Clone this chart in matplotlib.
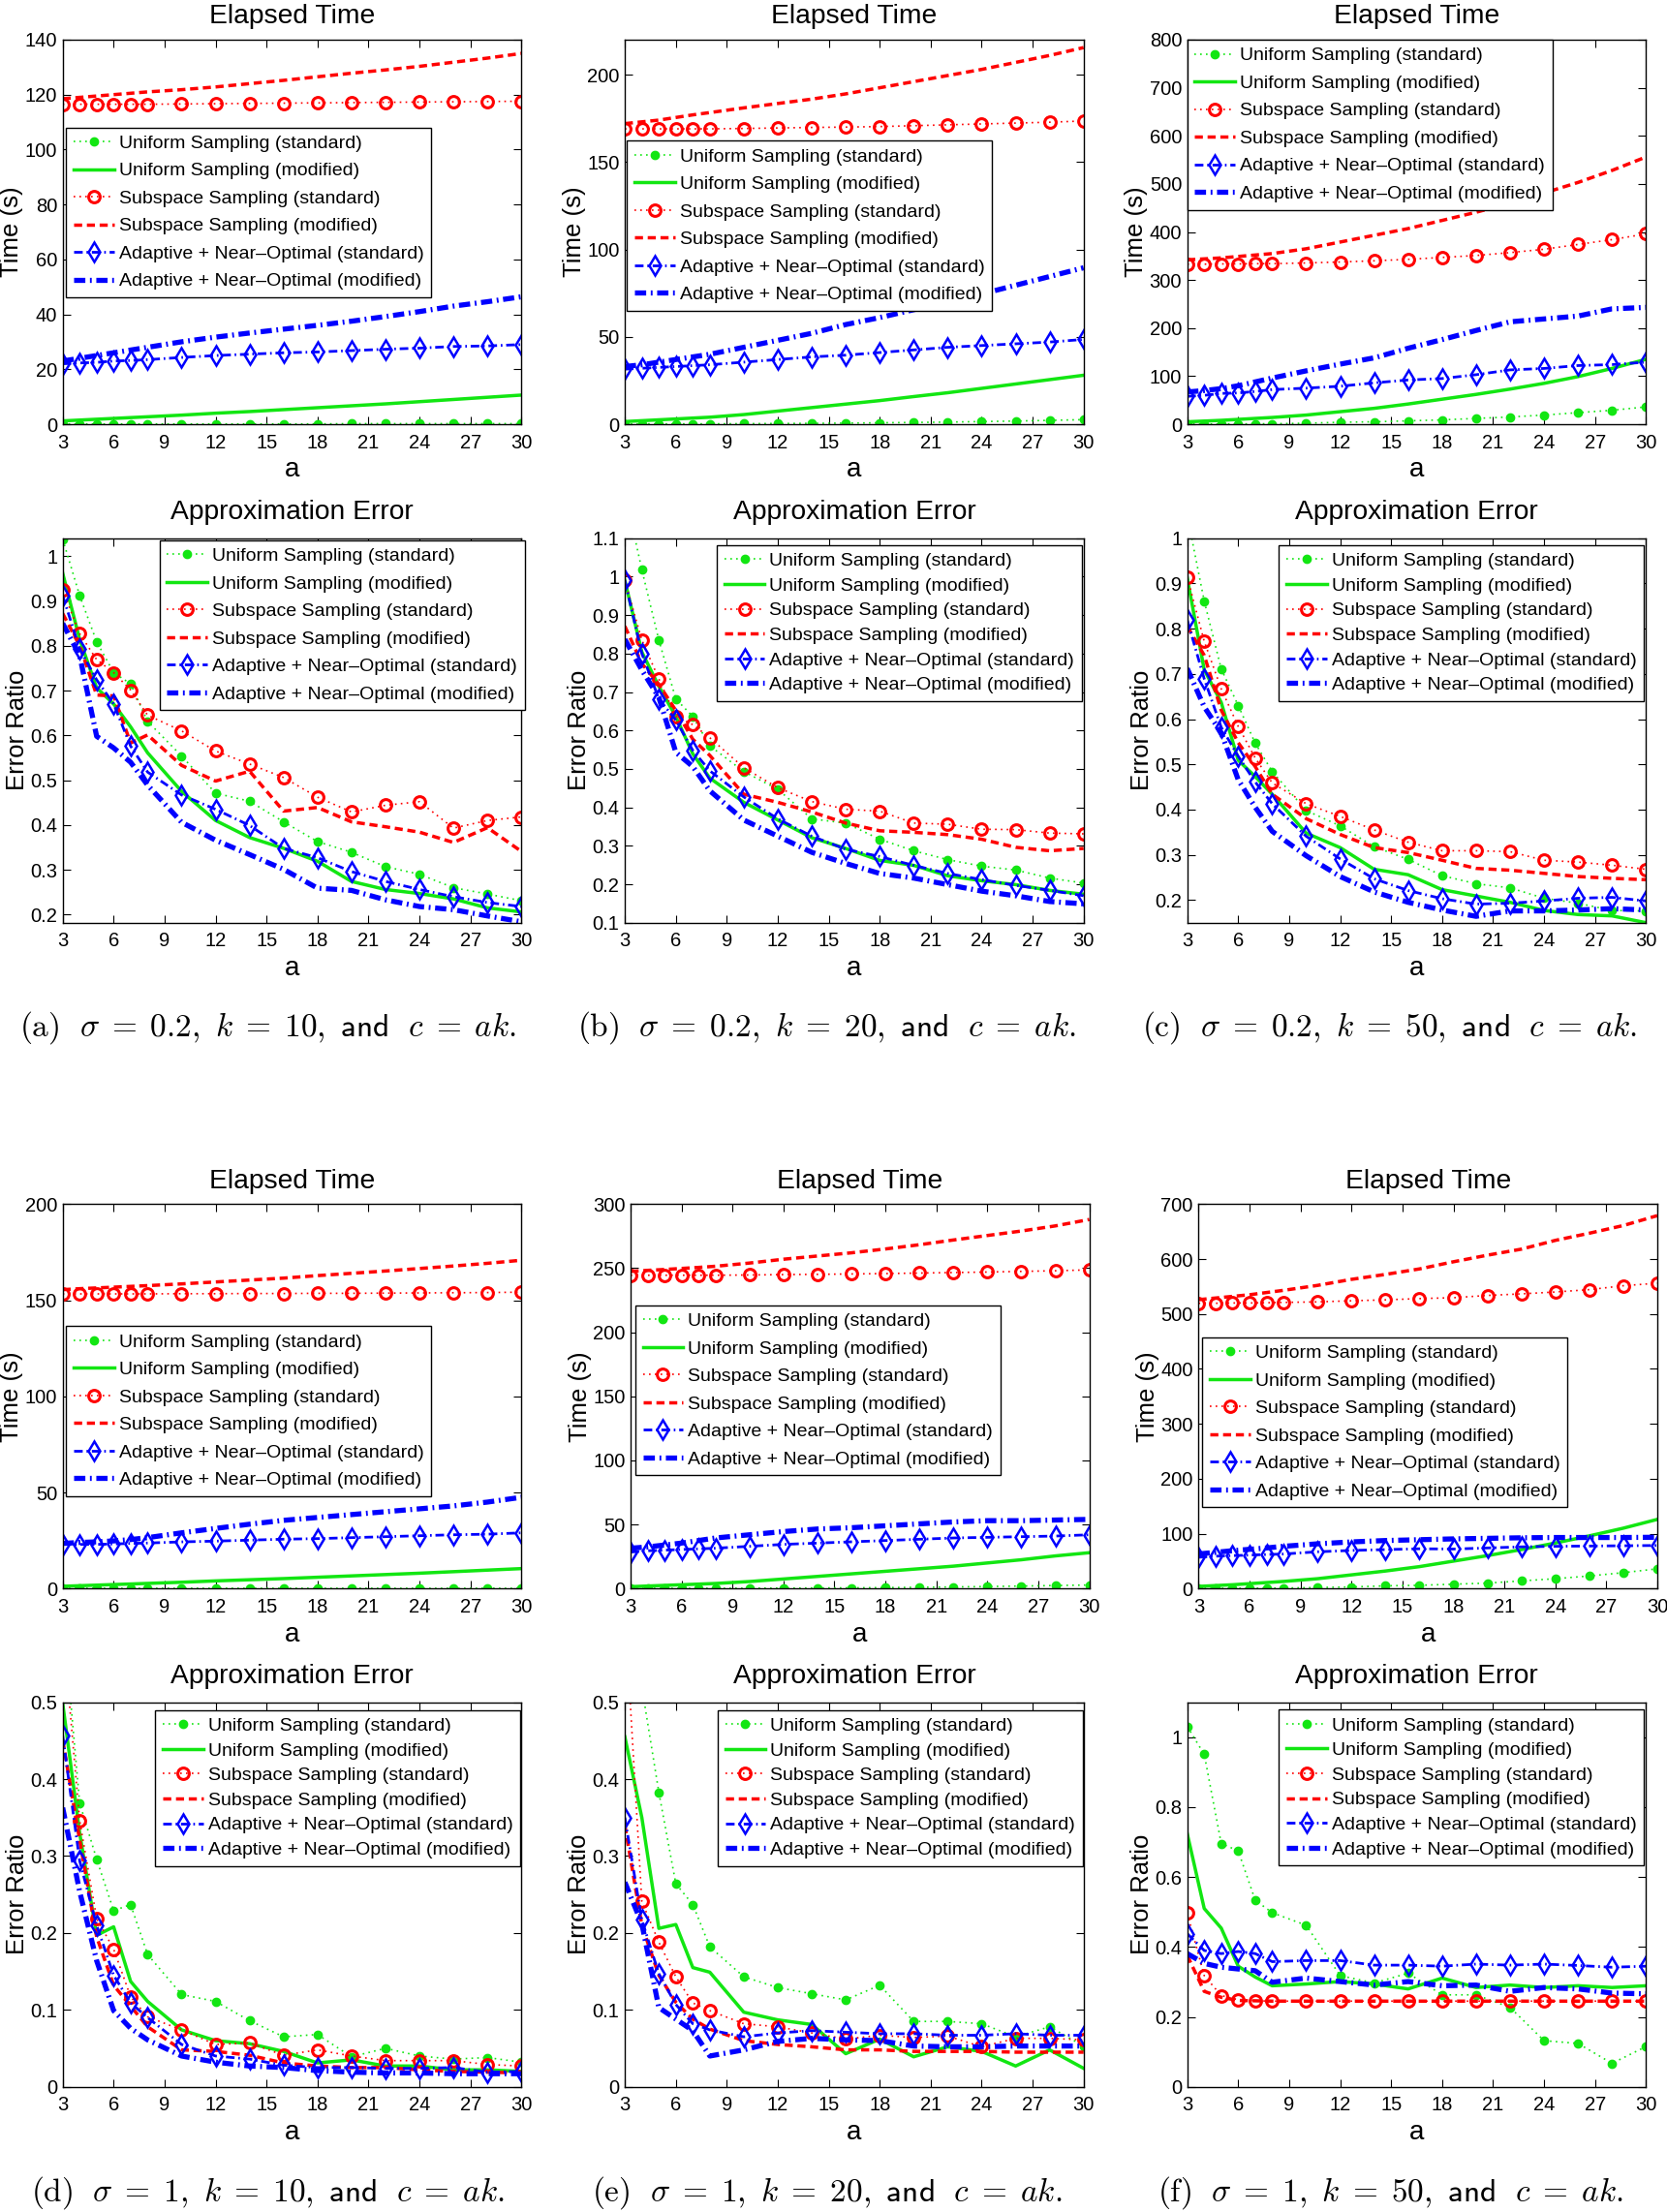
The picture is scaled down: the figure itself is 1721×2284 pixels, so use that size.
import matplotlib
matplotlib.use('Agg')
import matplotlib.pyplot as plt
from matplotlib.ticker import FormatStrFormatter

plt.rcParams['font.family'] = ['Liberation Sans', 'DejaVu Sans']
plt.rcParams['mathtext.fontset'] = 'cm'

a_vals = [3, 4, 5, 6, 7, 8, 10, 12, 14, 16, 18, 20, 22, 24, 26, 28, 30]
xticks = [3, 6, 9, 12, 15, 18, 21, 24, 27, 30]

labels = ['Uniform Sampling (standard)', 'Uniform Sampling (modified)',
          'Subspace Sampling (standard)', 'Subspace Sampling (modified)',
          'Adaptive + Near\u2013Optimal (standard)', 'Adaptive + Near\u2013Optimal (modified)']

# ---- elapsed time, sigma = 0.2 ----
ta_us = [0.1, 0.1, 0.1, 0.1, 0.1, 0.1, 0.1, 0.1, 0.1, 0.1, 0.1, 0.2, 0.2, 0.2, 0.2, 0.2, 0.2]
ta_um = [1.2, 1.5, 1.8, 2.1, 2.4, 2.7, 3.3, 4.0, 4.6, 5.3, 6.0, 6.7, 7.4, 8.2, 9.0, 9.8, 10.6]
ta_ss = [116.5, 116.5, 116.5, 116.5, 116.5, 116.5, 116.6, 116.7, 116.8, 116.9, 117.0, 117.1, 117.2, 117.3, 117.4, 117.5, 117.6]
ta_sm = [118.5, 119.0, 119.5, 120.0, 120.5, 121.0, 121.8, 122.8, 124.0, 125.2, 126.5, 127.8, 129.0, 130.3, 131.8, 133.3, 135.0]
ta_as = [22.0, 22.3, 22.5, 23.0, 23.2, 23.5, 24.3, 25.0, 25.5, 26.0, 26.3, 26.8, 27.3, 27.7, 28.3, 28.5, 29.0]
ta_am = [23.0, 24.0, 25.0, 26.0, 27.0, 28.0, 30.0, 31.7, 33.2, 34.6, 36.0, 37.5, 39.2, 41.0, 43.0, 44.6, 46.4]

tb_us = [0.2, 0.2, 0.2, 0.2, 0.2, 0.2, 0.3, 0.4, 0.5, 0.6, 0.8, 1.0, 1.2, 1.5, 1.8, 2.2, 2.6]
tb_um = [1.5, 2.0, 2.5, 3.0, 3.5, 4.0, 5.5, 7.5, 9.5, 11.5, 13.5, 15.8, 18.0, 20.5, 23.0, 25.5, 28.0]
tb_ss = [169, 169, 169, 169, 169, 169, 169.2, 169.5, 169.8, 170, 170.3, 170.8, 171.3, 171.8, 172.3, 172.8, 173.5]
tb_sm = [172, 173, 174, 175.5, 177, 178.3, 181, 183.5, 186, 189, 192.5, 196, 199.5, 203, 207, 211, 215.5]
tb_as = [31.5, 32, 32.5, 33, 33.5, 34, 35.5, 37, 38.5, 39.5, 41, 42.5, 44, 45, 46, 47, 48.5]
tb_am = [33, 34, 35.5, 37, 38.5, 40, 44, 48, 52, 57, 61, 65.5, 70, 74.5, 79.5, 84.5, 89.5]

tc_us = [0.5, 0.5, 0.6, 0.7, 0.8, 1.0, 2.0, 4.0, 5.0, 7.0, 9.0, 12.0, 15.0, 19.0, 24.0, 29.0, 36.0]
tc_um = [5, 6.5, 8, 10, 12, 14, 19, 26, 33, 42, 52, 62, 73, 85, 99, 116, 135]
tc_ss = [333, 333, 333.5, 333.5, 334, 334, 335.5, 337.5, 340, 343, 347, 351, 357, 364, 374, 384, 396]
tc_sm = [342, 344, 346, 349, 352, 355, 365, 379, 393, 407, 424, 441, 460, 481, 503, 528, 556]
tc_as = [58, 60, 64, 65, 68, 72, 75, 79, 86, 92, 95, 103, 113, 116, 122, 124, 129]
tc_am = [67, 70, 74, 80, 88, 96, 111, 125, 138, 158, 176, 195, 213, 219, 225, 240, 243]

# ---- approximation error, sigma = 0.2 ----
ea_us = [1.038, 0.912, 0.809, 0.740, 0.715, 0.631, 0.554, 0.471, 0.453, 0.407, 0.363, 0.339, 0.307, 0.290, 0.260, 0.246, 0.231]
ea_um = [0.962, 0.814, 0.706, 0.670, 0.619, 0.561, 0.475, 0.410, 0.372, 0.348, 0.319, 0.274, 0.256, 0.247, 0.235, 0.215, 0.206]
ea_ss = [0.924, 0.827, 0.769, 0.740, 0.701, 0.645, 0.610, 0.565, 0.536, 0.506, 0.462, 0.429, 0.444, 0.452, 0.393, 0.410, 0.418]
ea_sm = [0.872, 0.800, 0.690, 0.688, 0.583, 0.601, 0.533, 0.498, 0.520, 0.431, 0.439, 0.407, 0.396, 0.384, 0.361, 0.394, 0.341]
ea_as = [0.912, 0.793, 0.724, 0.670, 0.576, 0.518, 0.467, 0.435, 0.399, 0.348, 0.327, 0.296, 0.274, 0.256, 0.240, 0.227, 0.218]
ea_am = [0.850, 0.778, 0.598, 0.572, 0.540, 0.489, 0.406, 0.366, 0.334, 0.301, 0.259, 0.254, 0.233, 0.218, 0.211, 0.197, 0.184]

eb_us = [1.22, 1.018, 0.835, 0.682, 0.636, 0.560, 0.493, 0.447, 0.370, 0.359, 0.317, 0.287, 0.264, 0.247, 0.237, 0.216, 0.203]
eb_um = [0.990, 0.804, 0.715, 0.636, 0.539, 0.476, 0.413, 0.367, 0.321, 0.293, 0.262, 0.249, 0.222, 0.209, 0.199, 0.184, 0.174]
eb_ss = [0.990, 0.835, 0.734, 0.636, 0.615, 0.581, 0.503, 0.451, 0.415, 0.395, 0.390, 0.359, 0.356, 0.343, 0.342, 0.333, 0.331]
eb_sm = [0.871, 0.774, 0.720, 0.652, 0.577, 0.535, 0.434, 0.413, 0.388, 0.359, 0.339, 0.335, 0.329, 0.317, 0.296, 0.287, 0.293]
eb_as = [0.990, 0.800, 0.682, 0.627, 0.548, 0.495, 0.427, 0.370, 0.325, 0.291, 0.272, 0.249, 0.228, 0.212, 0.197, 0.184, 0.170]
eb_am = [0.837, 0.757, 0.686, 0.543, 0.506, 0.443, 0.367, 0.325, 0.283, 0.254, 0.228, 0.216, 0.199, 0.182, 0.170, 0.155, 0.149]

ec_us = [1.05, 0.861, 0.711, 0.630, 0.547, 0.484, 0.398, 0.364, 0.318, 0.290, 0.254, 0.236, 0.227, 0.204, 0.193, 0.177, 0.176]
ec_um = [0.912, 0.709, 0.637, 0.509, 0.473, 0.434, 0.348, 0.316, 0.268, 0.256, 0.223, 0.209, 0.195, 0.177, 0.168, 0.165, 0.150]
ec_ss = [0.914, 0.772, 0.667, 0.584, 0.514, 0.459, 0.413, 0.385, 0.355, 0.328, 0.309, 0.309, 0.307, 0.288, 0.284, 0.277, 0.268]
ec_sm = [0.805, 0.741, 0.620, 0.548, 0.495, 0.434, 0.380, 0.345, 0.316, 0.305, 0.288, 0.270, 0.266, 0.259, 0.252, 0.248, 0.245]
ec_as = [0.819, 0.689, 0.582, 0.518, 0.461, 0.413, 0.341, 0.291, 0.247, 0.221, 0.203, 0.191, 0.193, 0.198, 0.204, 0.206, 0.198]
ec_am = [0.712, 0.627, 0.570, 0.466, 0.405, 0.352, 0.298, 0.252, 0.218, 0.195, 0.178, 0.164, 0.176, 0.176, 0.178, 0.181, 0.178]

# ---- elapsed time, sigma = 1 ----
td_us = [0.2, 0.2, 0.2, 0.2, 0.2, 0.2, 0.2, 0.2, 0.2, 0.2, 0.2, 0.2, 0.2, 0.2, 0.2, 0.2, 0.2]
td_um = [1.2, 1.5, 1.8, 2.1, 2.4, 2.7, 3.3, 4.0, 4.6, 5.2, 5.9, 6.6, 7.3, 8.0, 8.8, 9.6, 10.4]
td_ss = [153.3, 153.3, 153.3, 153.3, 153.3, 153.3, 153.4, 153.4, 153.5, 153.5, 153.6, 153.6, 153.7, 153.8, 153.9, 154.0, 154.2]
td_sm = [155.5, 156, 156.4, 156.8, 157.2, 157.6, 158.5, 159.5, 160.5, 161.5, 162.8, 164, 165.2, 166.5, 167.8, 169.2, 170.8]
td_as = [23, 23, 23, 23.2, 23.5, 23.7, 24.3, 24.7, 25.2, 25.7, 26, 26.5, 27, 27.5, 28, 28.3, 29]
td_am = [23.5, 24, 24.3, 24.8, 25.5, 26.5, 29, 31.3, 33.5, 35.5, 37, 38.5, 40, 41.5, 43, 45, 47.5]

te_us = [0.2, 0.2, 0.2, 0.2, 0.2, 0.2, 0.3, 0.4, 0.5, 0.6, 0.8, 1.0, 1.3, 1.6, 2.0, 2.4, 2.8]
te_um = [1.5, 2, 2.5, 3, 3.5, 4, 5.5, 7.5, 9.5, 11.5, 13.5, 15.5, 17.5, 20, 22.5, 25.5, 28]
te_ss = [244.5, 244.5, 244.5, 244.5, 244.5, 244.5, 244.7, 245, 245.2, 245.5, 245.8, 246.2, 246.6, 247, 247.5, 248, 248.7]
te_sm = [247.5, 248.3, 249, 249.8, 250.6, 251.5, 254, 257, 259.5, 262, 265, 268.3, 272, 275.5, 279, 283, 288]
te_as = [28.5, 29.5, 30, 30.5, 31, 31.5, 33, 34.5, 35.5, 36.5, 37.5, 38.5, 39.5, 40, 40.5, 41, 42]
te_am = [31.5, 32.5, 34, 35.5, 37.5, 39.5, 42, 44.5, 46.5, 47.5, 49, 50.5, 52, 53, 53, 53.5, 54]

tf_us = [0.5, 0.5, 0.6, 0.7, 0.8, 1.0, 2.0, 3.0, 5.0, 6.0, 8.0, 10.0, 14.0, 18.0, 23.0, 29.0, 36.0]
tf_um = [4, 5.5, 7, 9, 11, 13, 18, 25, 32, 40, 50, 60, 71, 83, 96, 110, 126]
tf_ss = [519.5, 519.5, 520, 520, 520.5, 521, 522, 524, 525.7, 528, 529.6, 533.7, 536.6, 540, 544.3, 551.4, 556]
tf_sm = [526, 529, 532, 535, 539, 543, 552, 563, 572, 582, 595, 607, 618, 634, 647, 661, 679]
tf_as = [57, 59, 60, 61, 62, 63, 67, 69.5, 71, 72.5, 72, 74, 76, 77, 77.5, 78, 78.5]
tf_am = [63, 66, 69, 71.5, 74, 77, 81.5, 85, 87.5, 89, 90.5, 91.5, 92.5, 93, 93, 93, 93.5]

# ---- approximation error, sigma = 1 ----
ed_us = [0.62, 0.369, 0.296, 0.229, 0.237, 0.172, 0.120, 0.111, 0.086, 0.065, 0.068, 0.039, 0.050, 0.040, 0.036, 0.038, 0.032]
ed_um = [0.499, 0.330, 0.197, 0.208, 0.137, 0.111, 0.074, 0.060, 0.056, 0.046, 0.031, 0.035, 0.027, 0.027, 0.022, 0.022, 0.020]
ed_ss = [0.60, 0.346, 0.219, 0.179, 0.117, 0.091, 0.074, 0.055, 0.057, 0.041, 0.048, 0.040, 0.034, 0.034, 0.034, 0.029, 0.027]
ed_sm = [0.451, 0.321, 0.195, 0.132, 0.105, 0.078, 0.048, 0.046, 0.041, 0.031, 0.027, 0.025, 0.025, 0.022, 0.020, 0.019, 0.018]
ed_as = [0.457, 0.294, 0.210, 0.145, 0.109, 0.090, 0.055, 0.040, 0.036, 0.028, 0.025, 0.025, 0.024, 0.024, 0.025, 0.019, 0.020]
ed_am = [0.363, 0.254, 0.164, 0.099, 0.076, 0.061, 0.040, 0.032, 0.027, 0.025, 0.021, 0.019, 0.018, 0.018, 0.017, 0.017, 0.017]

ee_us = [0.75, 0.52, 0.383, 0.264, 0.237, 0.182, 0.143, 0.129, 0.121, 0.113, 0.132, 0.085, 0.085, 0.082, 0.065, 0.078, 0.053]
ee_um = [0.455, 0.350, 0.206, 0.211, 0.155, 0.149, 0.097, 0.087, 0.081, 0.043, 0.062, 0.039, 0.052, 0.046, 0.027, 0.048, 0.024]
ee_ss = [0.62, 0.241, 0.188, 0.143, 0.109, 0.099, 0.082, 0.078, 0.070, 0.062, 0.067, 0.064, 0.066, 0.052, 0.063, 0.063, 0.061]
ee_sm = [0.34, 0.21, 0.145, 0.110, 0.088, 0.075, 0.060, 0.055, 0.052, 0.048, 0.048, 0.046, 0.046, 0.046, 0.045, 0.045, 0.045]
ee_as = [0.350, 0.217, 0.147, 0.107, 0.082, 0.074, 0.065, 0.070, 0.073, 0.071, 0.069, 0.069, 0.067, 0.067, 0.069, 0.067, 0.067]
ee_am = [0.266, 0.212, 0.103, 0.088, 0.073, 0.040, 0.048, 0.059, 0.063, 0.061, 0.060, 0.053, 0.052, 0.052, 0.053, 0.053, 0.053]

ef_us = [1.031, 0.951, 0.696, 0.675, 0.534, 0.498, 0.462, 0.318, 0.297, 0.325, 0.263, 0.263, 0.227, 0.132, 0.124, 0.067, 0.115]
ef_um = [0.724, 0.510, 0.454, 0.345, 0.314, 0.289, 0.294, 0.301, 0.294, 0.280, 0.311, 0.284, 0.291, 0.284, 0.289, 0.284, 0.289]
ef_ss = [0.497, 0.318, 0.261, 0.249, 0.246, 0.245, 0.245, 0.245, 0.245, 0.245, 0.245, 0.245, 0.245, 0.245, 0.245, 0.245, 0.245]
ef_sm = [0.376, 0.273, 0.256, 0.247, 0.246, 0.245, 0.245, 0.245, 0.245, 0.245, 0.245, 0.245, 0.245, 0.245, 0.245, 0.245, 0.245]
ef_as = [0.438, 0.390, 0.381, 0.387, 0.381, 0.358, 0.361, 0.361, 0.348, 0.348, 0.345, 0.351, 0.348, 0.351, 0.347, 0.342, 0.345]
ef_am = [0.381, 0.353, 0.342, 0.337, 0.332, 0.299, 0.311, 0.301, 0.291, 0.301, 0.289, 0.291, 0.273, 0.284, 0.280, 0.268, 0.266]

captions = [r'$\mathrm{(a)}\ \ \sigma \;=\; 0.2,\ k \;=\; 10,\ \mathsf{and}\ \ c \;=\; ak.$',
            r'$\mathrm{(b)}\ \ \sigma \;=\; 0.2,\ k \;=\; 20,\ \mathsf{and}\ \ c \;=\; ak.$',
            r'$\mathrm{(c)}\ \ \sigma \;=\; 0.2,\ k \;=\; 50,\ \mathsf{and}\ \ c \;=\; ak.$',
            r'$\mathrm{(d)}\ \ \sigma \;=\; 1,\ k \;=\; 10,\ \mathsf{and}\ \ c \;=\; ak.$',
            r'$\mathrm{(e)}\ \ \sigma \;=\; 1,\ k \;=\; 20,\ \mathsf{and}\ \ c \;=\; ak.$',
            r'$\mathrm{(f)}\ \ \sigma \;=\; 1,\ k \;=\; 50,\ \mathsf{and}\ \ c \;=\; ak.$']

GREEN = '#12e612'
RED = '#ff0000'
BLUE = '#0000ff'
W, H = 1721, 2284


def panel(rect, ys, ylim, yticks, title, ylabel, anchor, spacing):
    left, top, w, h = rect
    ax = fig.add_axes([left / W, 1 - (top + h) / H, w / W, h / H])
    dots = (0, (1, 2.6))
    ax.plot(a_vals, ys[0], color=GREEN, ls=dots, lw=1.2, marker='o', ms=6,
            mfc=GREEN, mec=GREEN, label=labels[0])
    ax.plot(a_vals, ys[1], color=GREEN, ls='-', lw=2.5, label=labels[1])
    ax.plot(a_vals, ys[2], color=RED, ls=dots, lw=1.2, marker='o', ms=8.5,
            mfc='none', mec=RED, mew=2.2, label=labels[2])
    ax.plot(a_vals, ys[3], color=RED, ls=(0, (2.4, 1.4)), lw=2.5, label=labels[3])
    ax.plot(a_vals, ys[4], color=BLUE, ls=(0, (3.2, 1.4, 0.6, 1.4)), lw=2.0, marker='d',
            ms=10, mfc='none', mec=BLUE, mew=1.8, label=labels[4])
    ax.plot(a_vals, ys[5], color=BLUE, ls=(0, (2.2, 0.9, 0.35, 0.9)), lw=3.8, label=labels[5])

    ax.set_xlim(3, 30)
    ax.set_ylim(*ylim)
    ax.set_xticks(xticks)
    ax.set_yticks(yticks)
    ax.yaxis.set_major_formatter(FormatStrFormatter('%g'))
    ax.tick_params(direction='in', top=True, right=True, length=6, width=0.8,
                   labelsize=14.5, pad=4)
    ax.tick_params(axis='x', pad=7)
    for s in ax.spines.values():
        s.set_linewidth(1.0)
    ax.set_title(title, fontsize=20.3, pad=12 if title.startswith('E') else 14)
    ax.set_xlabel('a', fontsize=20, labelpad=4)
    ax.set_ylabel(ylabel, fontsize=18.5, labelpad=1)
    leg = ax.legend(loc='upper left', bbox_to_anchor=anchor, borderaxespad=0,
                    fontsize=14, numpoints=1, handlelength=2.15, handletextpad=0.25,
                    labelspacing=spacing, borderpad=0.4, fancybox=False,
                    framealpha=1, edgecolor='black')
    leg.get_frame().set_linewidth(1.0)
    return ax


fig = plt.figure(figsize=(W / 100, H / 100), dpi=100)

pw, ph = 473.6, 397
t1, e1, t2, e2 = 41, 555.7, 1243.3, 1757.7
sp_t, sp_e = 0.56, 0.41

panel((64.7, t1, pw, ph), [ta_us, ta_um, ta_ss, ta_sm, ta_as, ta_am], (0, 140),
      range(0, 141, 20), 'Elapsed Time', 'Time (s)', (0.008, 0.772), sp_t)
panel((645.1, t1, pw, ph), [tb_us, tb_um, tb_ss, tb_sm, tb_as, tb_am], (0, 220),
      range(0, 201, 50), 'Elapsed Time', 'Time (s)', (0.005, 0.737), sp_t)
panel((1225.7, t1, pw, ph), [tc_us, tc_um, tc_ss, tc_sm, tc_as, tc_am], (0, 800),
      range(0, 801, 100), 'Elapsed Time', 'Time (s)', (0.0, 1.0), sp_t)

panel((64.7, e1, pw, ph), [ea_us, ea_um, ea_ss, ea_sm, ea_as, ea_am], (0.182, 1.04),
      [0.2, 0.3, 0.4, 0.5, 0.6, 0.7, 0.8, 0.9, 1.0], 'Approximation Error', 'Error Ratio',
      (0.211, 0.995), sp_t)
panel((645.1, e1, pw, ph), [eb_us, eb_um, eb_ss, eb_sm, eb_as, eb_am], (0.1, 1.1),
      [0.1, 0.2, 0.3, 0.4, 0.5, 0.6, 0.7, 0.8, 0.9, 1.0, 1.1], 'Approximation Error',
      'Error Ratio', (0.2, 0.982), sp_e)
panel((1225.7, e1, pw, ph), [ec_us, ec_um, ec_ss, ec_sm, ec_as, ec_am], (0.15, 1.0),
      [0.2, 0.3, 0.4, 0.5, 0.6, 0.7, 0.8, 0.9, 1.0], 'Approximation Error', 'Error Ratio',
      (0.2, 0.982), sp_e)

panel((64.7, t2, pw, ph), [td_us, td_um, td_ss, td_sm, td_as, td_am], (0, 200),
      range(0, 201, 50), 'Elapsed Time', 'Time (s)', (0.008, 0.683), sp_t)
panel((651.0, t2, pw, ph), [te_us, te_um, te_ss, te_sm, te_as, te_am], (0, 300),
      range(0, 301, 50), 'Elapsed Time', 'Time (s)', (0.01, 0.737), sp_t)
panel((1237.4, t2, pw, ph), [tf_us, tf_um, tf_ss, tf_sm, tf_as, tf_am], (0, 700),
      range(0, 701, 100), 'Elapsed Time', 'Time (s)', (0.008, 0.654), sp_t)

panel((64.7, e2, pw, ph), [ed_us, ed_um, ed_ss, ed_sm, ed_as, ed_am], (0, 0.5),
      [0, 0.1, 0.2, 0.3, 0.4, 0.5], 'Approximation Error', 'Error Ratio',
      (0.202, 0.98), sp_e)
panel((645.1, e2, pw, ph), [ee_us, ee_um, ee_ss, ee_sm, ee_as, ee_am], (0, 0.5),
      [0, 0.1, 0.2, 0.3, 0.4, 0.5], 'Approximation Error', 'Error Ratio',
      (0.202, 0.98), sp_e)
panel((1225.7, e2, pw, ph), [ef_us, ef_um, ef_ss, ef_sm, ef_as, ef_am], (0, 1.1),
      [0, 0.2, 0.4, 0.6, 0.8, 1.0], 'Approximation Error', 'Error Ratio',
      (0.2, 0.981), sp_e)

cap_x = [277, 854, 1435]
for i, cap in enumerate(captions):
    cx = cap_x[i % 3]
    cy = 1061 if i < 3 else 2264
    fig.text(cx / W, 1 - cy / H, cap, ha='center', va='center', fontsize=24)

fig.savefig('out.png', dpi=100)
